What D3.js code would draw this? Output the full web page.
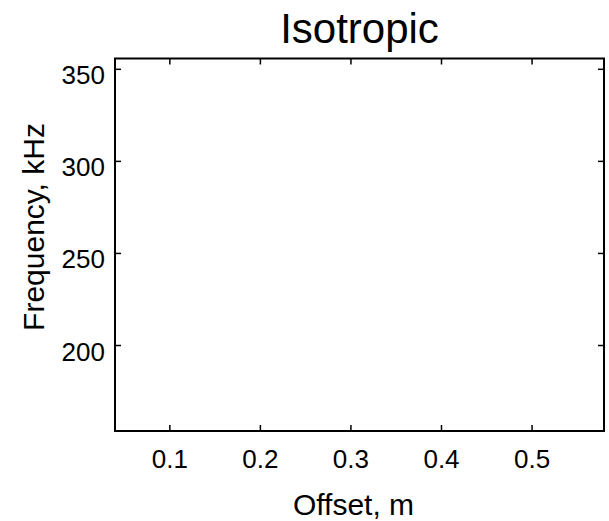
<!DOCTYPE html>
<html>
<head>
<meta charset="utf-8">
<script src="https://cdn.jsdelivr.net/npm/d3@7"></script>
<style>
  html, body { margin: 0; padding: 0; background: #fff; }
  svg { display: block; }
  text { font-family: 'Liberation Sans', Arial, Helvetica, sans-serif; fill: #000; }
</style>
</head>
<body>
<svg id="chart"></svg>
<script>
// axis limits and ticks (plot is empty)
const xDomain = [0.04, 0.58]
const yDomain = [153.3, 355.6]
const xTicks = [0.1, 0.2, 0.3, 0.4, 0.5]
const yTicks = [200, 250, 300, 350]
const titleText = 'Isotropic'
const xLabel = 'Offset, m'
const yLabel = 'Frequency, kHz'

const width = 609
const height = 521
const margin = { top: 58.5, right: 5, bottom: 90, left: 115 }
const TICK = 6

const svg = d3.select('#chart').attr('width', width).attr('height', height)

const x = d3.scaleLinear()
    .domain(xDomain)
    .range([margin.left, width - margin.right])

const y = d3.scaleLinear()
    .domain(yDomain)
    .range([height - margin.bottom, margin.top])

// inward ticks on all four sides, matlab box style
svg.append('g')
    .attr('transform', `translate(0,${y.range()[0]})`)
    .call(d3.axisBottom(x).tickValues(xTicks).tickSize(-TICK).tickPadding(16).tickFormat(d3.format('.1f')))
    .call(g => g.select('.domain').remove())
    .call(g => g.selectAll('.tick line').attr('stroke-width', 1.5))
    .call(g => g.selectAll('.tick text').attr('font-size', 26).attr('dy', '0.71em').attr('y', 19))

svg.append('g')
    .attr('transform', `translate(0,${y.range()[1]})`)
    .call(d3.axisTop(x).tickValues(xTicks).tickSize(-TICK).tickFormat(''))
    .call(g => g.select('.domain').remove())
    .call(g => g.selectAll('.tick line').attr('stroke-width', 1.5))

svg.append('g')
    .attr('transform', `translate(${x.range()[0]},0)`)
    .call(d3.axisLeft(y).tickValues(yTicks).tickSize(-TICK).tickPadding(10))
    .call(g => g.select('.domain').remove())
    .call(g => g.selectAll('.tick line').attr('stroke-width', 1.5))
    .call(g => g.selectAll('.tick text').attr('font-size', 26).attr('dy', '0').attr('y', 15).attr('x', -10))

svg.append('g')
    .attr('transform', `translate(${x.range()[1]},0)`)
    .call(d3.axisRight(y).tickValues(yTicks).tickSize(-TICK).tickFormat(''))
    .call(g => g.select('.domain').remove())
    .call(g => g.selectAll('.tick line').attr('stroke-width', 1.5))

svg.append('rect')
    .attr('x', x.range()[0])
    .attr('y', y.range()[1])
    .attr('width', x.range()[1] - x.range()[0])
    .attr('height', y.range()[0] - y.range()[1])
    .attr('fill', 'none')
    .attr('stroke', '#000')
    .attr('stroke-width', 2)

svg.append('text')
    .attr('x', (x.range()[0] + x.range()[1]) / 2)
    .attr('y', 43)
    .attr('text-anchor', 'middle')
    .attr('font-size', 42)
    .text(titleText)

svg.append('text')
    .attr('x', 353.5)
    .attr('y', 515)
    .attr('text-anchor', 'middle')
    .attr('font-size', 30)
    .text(xLabel)

svg.append('text')
    .attr('transform', 'translate(44,227) rotate(-90)')
    .attr('text-anchor', 'middle')
    .attr('font-size', 30)
    .text(yLabel)
</script>
</body>
</html>
